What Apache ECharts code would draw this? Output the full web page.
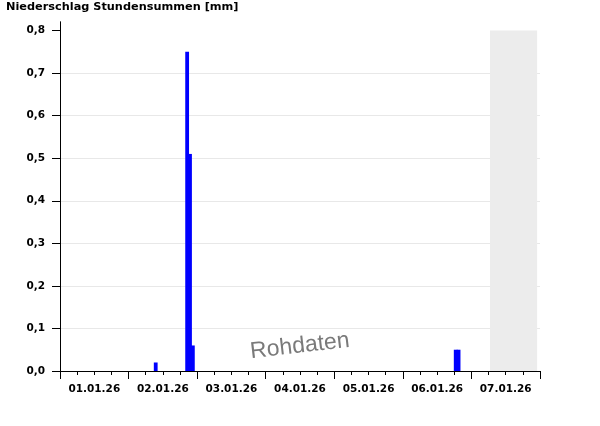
<!DOCTYPE html>
<html>
<head>
<meta charset="utf-8">
<script src="https://cdn.jsdelivr.net/npm/echarts@6/dist/echarts.min.js"></script>
<style>
html,body{margin:0;padding:0;background:#fff;}
#chart{width:600px;height:426px;}
</style>
</head>
<body>
<div id="chart"></div>
<script>
// Hours since 01.01.26 00:00 (centre of each hourly bar)
const barHours = [33.5, 44.5, 45.5, 46.5, 138.5, 139.5];
// Hourly precipitation sums [mm]
const barValues = [0.02, 0.75, 0.51, 0.06, 0.05, 0.05];
// Day labels, placed at noon of each day
const dayLabels = ['01.01.26', '02.01.26', '03.01.26', '04.01.26', '05.01.26', '06.01.26', '07.01.26'];
const yTicks = [0, 0.1, 0.2, 0.3, 0.4, 0.5, 0.6, 0.7, 0.8];
// Not-yet-available period (grey band), hours
const futureStart = 150.5;
const futureEnd = 167;

const labelPositions = dayLabels.map((d, i) => i * 24 + 12);
const FONT = 'DejaVu Sans';

const chart = echarts.init(document.getElementById('chart'), null, {renderer: 'canvas'});
chart.setOption({
  animation: false,
  backgroundColor: '#ffffff',
  title: {
    text: 'Niederschlag Stundensummen [mm]',
    left: 6, top: 2, padding: 0,
    textStyle: {fontFamily: FONT, fontWeight: 'bold', fontSize: 11.3, color: '#000'}
  },
  grid: {left: 60, right: 60, top: 22, bottom: 55},
  xAxis: [
    {
      type: 'value', min: 0, max: 168, interval: 24,
      axisLine: {show: true, lineStyle: {color: '#000', width: 1}},
      axisTick: {show: true, length: 8, lineStyle: {color: '#000'}},
      minorTick: {show: true, splitNumber: 4, length: 4, lineStyle: {color: '#000'}},
      axisLabel: {show: false},
      splitLine: {show: false}
    },
    {
      type: 'value', min: 0, max: 168, position: 'bottom',
      axisLine: {show: false},
      axisTick: {show: false},
      splitLine: {show: false},
      axisLabel: {
        show: true, customValues: labelPositions, margin: 13,
        fontFamily: FONT, fontWeight: 'bold', fontSize: 10.5, color: '#000',
        formatter: v => dayLabels[Math.round((v - 12) / 24)] || ''
      }
    }
  ],
  yAxis: [
    {
      type: 'value', min: 0, max: 0.82, interval: 0.1,
      axisLine: {show: true, lineStyle: {color: '#000', width: 1}},
      axisTick: {show: true, length: 8, customValues: yTicks, lineStyle: {color: '#000'}},
      axisLabel: {
        customValues: yTicks, margin: 15,
        fontFamily: FONT, fontWeight: 'bold', fontSize: 10.5, color: '#000',
        formatter: v => v.toFixed(1).replace('.', ',')
      },
      splitLine: {show: true, showMaxLine: false, lineStyle: {color: '#e8e8e8', width: 1}}
    },
    {
      type: 'value', min: 0, max: 0.82, position: 'right',
      axisLine: {show: true, lineStyle: {color: '#000', width: 1}},
      axisTick: {show: false},
      axisLabel: {show: false},
      splitLine: {show: false}
    }
  ],
  graphic: [
    {
      type: 'text', left: 249, top: 329, rotation: 0.115, z: 10,
      style: {
        text: 'Rohdaten', fontFamily: 'Liberation Sans', fontSize: 23,
        fill: '#7a7a7a', textShadowColor: '#c8c8c8', textShadowOffsetX: 1, textShadowOffsetY: 1, textShadowBlur: 0
      }
    }
  ],
  series: [
    {
      type: 'bar', xAxisIndex: 0, yAxisIndex: 0,
      barWidth: 3.8,
      itemStyle: {color: '#0000ff'},
      data: barHours.map((h, i) => [h, barValues[i]]),
      markArea: {
        silent: true,
        itemStyle: {color: '#ececec'},
        data: [[{coord: [futureStart, 0]}, {coord: [futureEnd, 0.8]}]]
      }
    }
  ]
});
</script>
</body>
</html>
